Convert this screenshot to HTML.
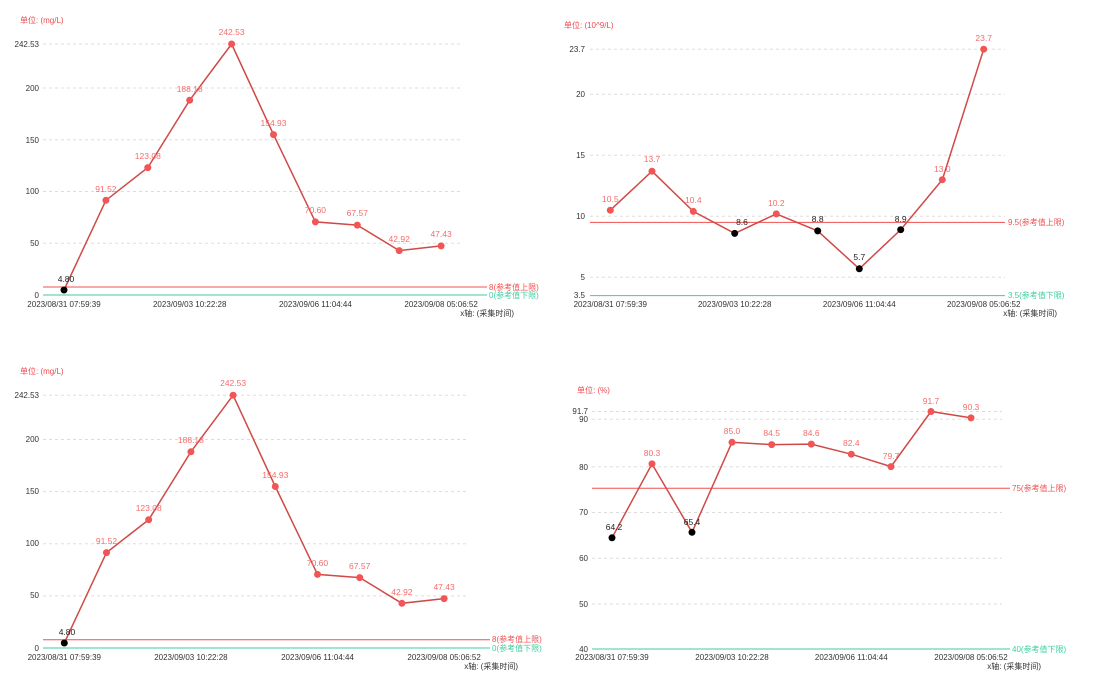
<!DOCTYPE html>
<html><head><meta charset="utf-8"><style>
html,body{margin:0;padding:0;background:#fff;}
svg{display:block;font-family:"Liberation Sans","Noto Sans CJK SC",sans-serif;}
.ax{font-size:8px;fill:#333;}
.u{font-size:8px;fill:#f0494e;}
.pl{font-size:8.5px;fill:#f56c6c;text-anchor:middle;}
.pb{font-size:8.5px;fill:#222;text-anchor:middle;}
.g{stroke:#ddd;stroke-dasharray:3,3;stroke-width:1;}
.ln{fill:none;stroke:#cf4a47;stroke-width:1.5;}
.rr{stroke:#f05050;stroke-width:1;}
.rg{stroke:#3ecf9e;stroke-width:1;}
.rt{font-size:8px;fill:#f05050;}
.gt{font-size:8px;fill:#3ecf9e;}
</style></head><body>
<svg width="1105" height="685" viewBox="0 0 1105 685">
<!-- Chart 1 -->
<text class="u" x="20" y="23">单位: (mg/L)</text>
<g class="ax" text-anchor="end">
<text x="39" y="47">242.53</text><text x="39" y="91">200</text><text x="39" y="143">150</text><text x="39" y="194">100</text><text x="39" y="246">50</text><text x="39" y="298">0</text></g>
<line class="g" x1="43" y1="44" x2="462" y2="44"/><line class="g" x1="43" y1="88" x2="462" y2="88"/><line class="g" x1="43" y1="139.8" x2="462" y2="139.8"/><line class="g" x1="43" y1="191.5" x2="462" y2="191.5"/><line class="g" x1="43" y1="243.3" x2="462" y2="243.3"/>
<line class="rr" x1="43" y1="287" x2="487" y2="287"/><line class="rg" x1="43" y1="295" x2="487" y2="295"/>
<text class="rt" x="489" y="290">8(参考值上限)</text><text class="gt" x="489" y="298">0(参考值下限)</text>
<polyline class="ln" points="64,290 105.9,200.3 147.8,167.6 189.7,100.2 231.6,44 273.5,134.6 315.4,221.9 357.3,225.1 399.2,250.6 441.1,245.9"/>
<g fill="#f25555"><circle cx="105.9" cy="200.3" r="3.5"/><circle cx="147.8" cy="167.6" r="3.5"/><circle cx="189.7" cy="100.2" r="3.5"/><circle cx="231.6" cy="44" r="3.5"/><circle cx="273.5" cy="134.6" r="3.5"/><circle cx="315.4" cy="221.9" r="3.5"/><circle cx="357.3" cy="225.1" r="3.5"/><circle cx="399.2" cy="250.6" r="3.5"/><circle cx="441.1" cy="245.9" r="3.5"/></g>
<circle cx="64" cy="290" r="3.5" fill="#000"/>
<text class="pb" x="66" y="282">4.80</text>
<text class="pl" x="105.9" y="192">91.52</text><text class="pl" x="147.8" y="159">123.08</text><text class="pl" x="189.7" y="92">188.18</text><text class="pl" x="231.6" y="35">242.53</text><text class="pl" x="273.5" y="126">154.93</text><text class="pl" x="315.4" y="213">70.60</text><text class="pl" x="357.3" y="216">67.57</text><text class="pl" x="399.2" y="242">42.92</text><text class="pl" x="441.1" y="237">47.43</text>
<g class="ax" text-anchor="middle"><text x="64" y="307">2023/08/31 07:59:39</text><text x="189.7" y="307">2023/09/03 10:22:28</text><text x="315.4" y="307">2023/09/06 11:04:44</text><text x="441.1" y="307">2023/09/08 05:06:52</text></g>
<text class="ax" x="514" y="316" text-anchor="end">x轴: (采集时间)</text>

<!-- Chart 2 -->
<text class="u" x="564" y="28">单位: (10^9/L)</text>
<g class="ax" text-anchor="end">
<text x="585" y="52">23.7</text><text x="585" y="97">20</text><text x="585" y="158">15</text><text x="585" y="219">10</text><text x="585" y="280">5</text><text x="585" y="298">3.5</text></g>
<line class="g" x1="590" y1="49.3" x2="1005" y2="49.3"/><line class="g" x1="590" y1="94.3" x2="1005" y2="94.3"/><line class="g" x1="590" y1="155.3" x2="1005" y2="155.3"/><line class="g" x1="590" y1="216.3" x2="1005" y2="216.3"/><line class="g" x1="590" y1="277.3" x2="1005" y2="277.3"/>
<line class="rr" x1="590" y1="222.4" x2="1005" y2="222.4"/><line class="rg" x1="590" y1="295.6" x2="1005" y2="295.6"/>
<text class="rt" x="1008" y="225">9.5(参考值上限)</text><text class="gt" x="1008" y="298">3.5(参考值下限)</text>
<polyline class="ln" points="610.3,210.2 652,171.2 693.3,211.4 734.7,233.4 776.3,213.9 817.7,230.9 859.3,268.8 900.7,229.7 942.3,179.7 983.7,49.2"/>
<g fill="#f25555"><circle cx="610.3" cy="210.2" r="3.5"/><circle cx="652" cy="171.2" r="3.5"/><circle cx="693.3" cy="211.4" r="3.5"/><circle cx="776.3" cy="213.9" r="3.5"/><circle cx="942.3" cy="179.7" r="3.5"/><circle cx="983.7" cy="49.2" r="3.5"/></g>
<g fill="#000"><circle cx="734.7" cy="233.4" r="3.5"/><circle cx="817.7" cy="230.9" r="3.5"/><circle cx="859.3" cy="268.8" r="3.5"/><circle cx="900.7" cy="229.7" r="3.5"/></g>
<text class="pl" x="610.3" y="202">10.5</text><text class="pl" x="652" y="162">13.7</text><text class="pl" x="693.3" y="203">10.4</text><text class="pb" x="742" y="225">8.6</text><text class="pl" x="776.3" y="206">10.2</text><text class="pb" x="817.7" y="222">8.8</text><text class="pb" x="859.3" y="260">5.7</text><text class="pb" x="900.7" y="222">8.9</text><text class="pl" x="942.3" y="172">13.0</text><text class="pl" x="983.7" y="41">23.7</text>
<g class="ax" text-anchor="middle"><text x="610.3" y="307">2023/08/31 07:59:39</text><text x="734.7" y="307">2023/09/03 10:22:28</text><text x="859.3" y="307">2023/09/06 11:04:44</text><text x="983.7" y="307">2023/09/08 05:06:52</text></g>
<text class="ax" x="1057" y="316" text-anchor="end">x轴: (采集时间)</text>

<!-- Chart 3 -->
<text class="u" x="20" y="374">单位: (mg/L)</text>
<g class="ax" text-anchor="end">
<text x="39" y="398">242.53</text><text x="39" y="442">200</text><text x="39" y="494">150</text><text x="39" y="546">100</text><text x="39" y="598">50</text><text x="39" y="651">0</text></g>
<line class="g" x1="43" y1="395.2" x2="467" y2="395.2"/><line class="g" x1="43" y1="439.5" x2="467" y2="439.5"/><line class="g" x1="43" y1="491.6" x2="467" y2="491.6"/><line class="g" x1="43" y1="543.8" x2="467" y2="543.8"/><line class="g" x1="43" y1="595.9" x2="467" y2="595.9"/>
<line class="rr" x1="43" y1="639.7" x2="490" y2="639.7"/><line class="rg" x1="43" y1="648" x2="490" y2="648"/>
<text class="rt" x="492" y="642">8(参考值上限)</text><text class="gt" x="492" y="651">0(参考值下限)</text>
<polyline class="ln" points="64.3,643 106.5,552.6 148.7,519.7 190.9,451.8 233.1,395.2 275.3,486.5 317.5,574.4 359.7,577.6 401.9,603.3 444.1,598.6"/>
<g fill="#f25555"><circle cx="106.5" cy="552.6" r="3.5"/><circle cx="148.7" cy="519.7" r="3.5"/><circle cx="190.9" cy="451.8" r="3.5"/><circle cx="233.1" cy="395.2" r="3.5"/><circle cx="275.3" cy="486.5" r="3.5"/><circle cx="317.5" cy="574.4" r="3.5"/><circle cx="359.7" cy="577.6" r="3.5"/><circle cx="401.9" cy="603.3" r="3.5"/><circle cx="444.1" cy="598.6" r="3.5"/></g>
<circle cx="64.3" cy="643" r="3.5" fill="#000"/>
<text class="pb" x="67" y="635">4.80</text>
<text class="pl" x="106.5" y="544">91.52</text><text class="pl" x="148.7" y="511">123.08</text><text class="pl" x="190.9" y="443">188.18</text><text class="pl" x="233.1" y="386">242.53</text><text class="pl" x="275.3" y="478">154.93</text><text class="pl" x="317.5" y="566">70.60</text><text class="pl" x="359.7" y="569">67.57</text><text class="pl" x="401.9" y="595">42.92</text><text class="pl" x="444.1" y="590">47.43</text>
<g class="ax" text-anchor="middle"><text x="64.3" y="660">2023/08/31 07:59:39</text><text x="190.9" y="660">2023/09/03 10:22:28</text><text x="317.5" y="660">2023/09/06 11:04:44</text><text x="444.1" y="660">2023/09/08 05:06:52</text></g>
<text class="ax" x="518" y="669" text-anchor="end">x轴: (采集时间)</text>

<!-- Chart 4 -->
<text class="u" x="577" y="393">单位: (%)</text>
<g class="ax" text-anchor="end">
<text x="588" y="414">91.7</text><text x="588" y="422">90</text><text x="588" y="470">80</text><text x="588" y="515">70</text><text x="588" y="561">60</text><text x="588" y="607">50</text><text x="588" y="652">40</text></g>
<line class="g" x1="592" y1="411.5" x2="1002" y2="411.5"/><line class="g" x1="592" y1="419.3" x2="1002" y2="419.3"/><line class="g" x1="592" y1="466.7" x2="1002" y2="466.7"/><line class="g" x1="592" y1="512.5" x2="1002" y2="512.5"/><line class="g" x1="592" y1="558.3" x2="1002" y2="558.3"/><line class="g" x1="592" y1="604" x2="1002" y2="604"/>
<line class="rr" x1="592" y1="488.2" x2="1010" y2="488.2"/><line class="rg" x1="592" y1="649" x2="1010" y2="649"/>
<text class="rt" x="1012" y="491">75(参考值上限)</text><text class="gt" x="1012" y="652">40(参考值下限)</text>
<polyline class="ln" points="612,537.8 652,463.9 692,532.3 732,442.3 771.7,444.6 811.3,444.1 851.3,454.2 891,466.6 931,411.5 971,417.9"/>
<g fill="#f25555"><circle cx="652" cy="463.9" r="3.5"/><circle cx="732" cy="442.3" r="3.5"/><circle cx="771.7" cy="444.6" r="3.5"/><circle cx="811.3" cy="444.1" r="3.5"/><circle cx="851.3" cy="454.2" r="3.5"/><circle cx="891" cy="466.6" r="3.5"/><circle cx="931" cy="411.5" r="3.5"/><circle cx="971" cy="417.9" r="3.5"/></g>
<g fill="#000"><circle cx="612" cy="537.8" r="3.5"/><circle cx="692" cy="532.3" r="3.5"/></g>
<text class="pb" x="614" y="530">64.2</text><text class="pl" x="652" y="456">80.3</text><text class="pb" x="692" y="525">65.4</text><text class="pl" x="732" y="434">85.0</text><text class="pl" x="771.7" y="436">84.5</text><text class="pl" x="811.3" y="436">84.6</text><text class="pl" x="851.3" y="446">82.4</text><text class="pl" x="891" y="459">79.7</text><text class="pl" x="931" y="404">91.7</text><text class="pl" x="971" y="410">90.3</text>
<g class="ax" text-anchor="middle"><text x="612" y="660">2023/08/31 07:59:39</text><text x="732" y="660">2023/09/03 10:22:28</text><text x="851.3" y="660">2023/09/06 11:04:44</text><text x="971" y="660">2023/09/08 05:06:52</text></g>
<text class="ax" x="1041" y="669" text-anchor="end">x轴: (采集时间)</text>
</svg>
</body></html>
